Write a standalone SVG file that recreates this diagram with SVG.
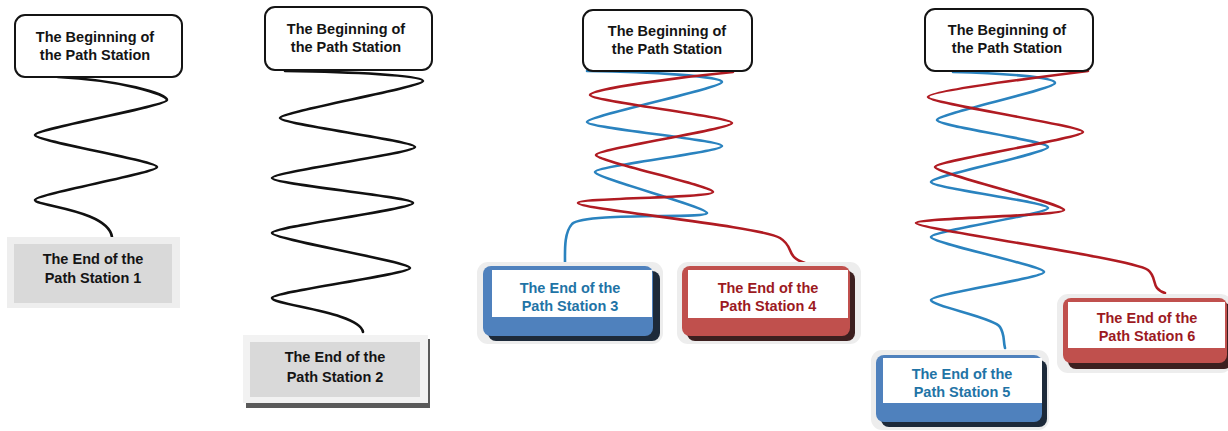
<svg xmlns="http://www.w3.org/2000/svg" width="1228" height="431" viewBox="0 0 1228 431">
<style>
text{font-family:"Liberation Sans",Arial,sans-serif;font-weight:700;font-size:14.5px;text-anchor:middle}
.bt{fill:#141414}
.bl{fill:#1f74a6}
.rt{fill:#9c1a1f}
.start{fill:#ffffff;stroke:#141414;stroke-width:2}
.w{fill:none;stroke-width:2.6;stroke-linecap:round;stroke-linejoin:round}
.k{stroke:#111111}
.b{stroke:#2a83bf}
.r{stroke:#b01b22}
.glow{fill:#ededed}
.bshadow{fill:#1d2a3a}
.rshadow{fill:#3c1f1f}
.blue{fill:#4f81bd}
.red{fill:#c0504d}
.white{fill:#ffffff}
.gout{fill:#eeeeee}
.gin{fill:#d9d9d9}
</style>
<rect width="1228" height="431" fill="#ffffff"/>
<g id="connectors">
<path class="w k" d="M58 77 C120 80 167 94 167 100 S35 129 35 135 S157 161 157 167 S35 194 35 200 C35 206 108 210 112 237"/>
<path class="w k" d="M285 71 C350 72 423 75 423 81 S280 112 280 118 S415 141 415 147 S272 172 272 178 S413 197 413 203 S272 227 272 233 S410 262 410 268 S272 292 272 298 C272 305 360 312 363 332"/>
<path class="w b" d="M587 71 C650 72 722 76 722 82 S587 116 587 122 S722 140 722 146 S595 166 595 172 S707 207 707 213 C707 219 585 212 572 224 C564 233 565 250 565 263"/>
<path class="w r" d="M733 72 C680 77 590 89 590 95 S732 117 732 123 S596 149 596 155 S713 186 713 192 S578 198 578 203 C578 209 760 226 780 238 C795 247 785 257 805 263"/>
<path class="w b" d="M953 72 C1000 73 1055 77 1055 83 S937 114 937 120 S1048 141 1048 147 S931 176 931 182 S1048 202 1048 208 S931 231 931 237 S1044 266 1044 272 S931 294 931 300 C931 306 995 318 1000 327 C1005 335 1003 340 1005 348"/>
<path class="w r" d="M1088 71 C1040 77 928 91 928 97 S1083 126 1083 132 S935 161 935 167 S1064 204 1064 210 S916 218 916 223 C916 229 1130 258 1148 270 C1158 278 1150 288 1165 293"/>
</g>
<g id="begin1">
<rect class="start" x="15" y="15" width="167" height="62" rx="10"/>
<text class="bt" x="95" y="42">The Beginning of</text>
<text class="bt" x="95" y="60">the Path Station</text>
</g>
<g id="begin2">
<rect class="start" x="265" y="7" width="167" height="63" rx="10"/>
<text class="bt" x="346" y="34">The Beginning of</text>
<text class="bt" x="346" y="52">the Path Station</text>
</g>
<g id="begin3">
<rect class="start" x="583" y="10" width="169" height="61" rx="10"/>
<text class="bt" x="667" y="36">The Beginning of</text>
<text class="bt" x="667" y="54">the Path Station</text>
</g>
<g id="begin4">
<rect class="start" x="925" y="9" width="168" height="62" rx="10"/>
<text class="bt" x="1007" y="35">The Beginning of</text>
<text class="bt" x="1007" y="53">the Path Station</text>
</g>
<g id="end1">
<rect class="gout" x="7" y="237" width="173" height="71"/>
<rect class="gin" x="14" y="244" width="158" height="59"/>
<text class="bt" x="93" y="264">The End of the</text>
<text class="bt" x="93" y="283">Path Station 1</text>
</g>
<g id="end2">
<rect fill="#5a5a5a" x="246" y="339" width="184" height="69"/>
<rect fill="#f2f2f2" x="243" y="335" width="185" height="68"/>
<rect class="gin" x="250" y="342" width="170" height="55"/>
<text class="bt" x="335" y="362">The End of the</text>
<text class="bt" x="335" y="382">Path Station 2</text>
</g>
<g id="end3">
<rect class="glow" x="477" y="262" width="186" height="82" rx="11"/>
<rect class="bshadow" x="488" y="271" width="172" height="70" rx="8"/>
<rect class="blue" x="483" y="266" width="170" height="70" rx="8"/>
<rect class="white" x="492" y="270" width="160" height="47"/>
<text class="bl" x="570" y="293">The End of the</text>
<text class="bl" x="570" y="311">Path Station 3</text>
</g>
<g id="end4">
<rect class="glow" x="677" y="262" width="184" height="82" rx="11"/>
<rect class="rshadow" x="687" y="271" width="168" height="70" rx="8"/>
<rect class="red" x="682" y="266" width="168" height="70" rx="8"/>
<rect class="white" x="688" y="270" width="160" height="48"/>
<text class="rt" x="768" y="293">The End of the</text>
<text class="rt" x="768" y="311">Path Station 4</text>
</g>
<g id="end5">
<rect class="glow" x="871" y="350" width="178" height="80" rx="11"/>
<rect class="bshadow" x="881" y="360" width="166" height="67" rx="8"/>
<rect class="blue" x="876" y="355" width="166" height="67" rx="8"/>
<rect class="white" x="883" y="358" width="159" height="45"/>
<text class="bl" x="962" y="379">The End of the</text>
<text class="bl" x="962" y="397">Path Station 5</text>
</g>
<g id="end6">
<rect class="glow" x="1057" y="294" width="175" height="79" rx="11"/>
<rect class="rshadow" x="1068" y="303" width="164" height="66" rx="8"/>
<rect class="red" x="1063" y="298" width="164" height="65" rx="8"/>
<rect class="white" x="1068" y="302" width="157" height="46"/>
<text class="rt" x="1147" y="323">The End of the</text>
<text class="rt" x="1147" y="341">Path Station 6</text>
</g>
</svg>
